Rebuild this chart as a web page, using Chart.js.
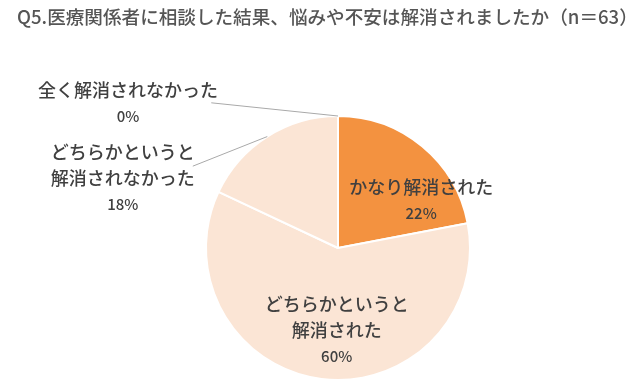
<!DOCTYPE html>
<html>
<head>
<meta charset="utf-8">
<script src="https://cdn.jsdelivr.net/npm/chart.js@4"></script>
<style>
  html, body { margin: 0; padding: 0; background: #fff; }
  #wrap { width: 640px; height: 389px; position: relative; }
</style>
</head>
<body>
<div id="wrap"><canvas id="pieChart" width="640" height="389"></canvas></div>
<script>
// chart data
const titleText = 'Q5.医療関係者に相談した結果、悩みや不安は解消されましたか（n＝63）';
const categories = [
    ['かなり解消された'],
    ['どちらかというと', '解消された'],
    ['どちらかというと', '解消されなかった'],
    ['全く解消されなかった']
];
const percents = [22, 60, 18, 0];
const sliceColors = ['#F39240', '#FBE5D5', '#FBE5D5', '#FBE5D5'];

const FONT = '"Noto Sans CJK JP", "Noto Sans", sans-serif';

// label placement relative to pie centre, in units of radius
// inside: text centre; outside: text centre + leader start
const labelPlace = [
    { dx: 0.63, dy: -0.36, leader: false },
    { dx: -0.01, dy: 0.62, leader: false },
    { dx: -1.63, dy: -0.53, leader: true, lx: -1.10, ly: -0.62 },
    { dx: -1.59, dy: -1.10, leader: true, lx: -0.96, ly: -1.10 }
];

const labelPlugin = {
    id: 'pieLabels',
    afterDatasetsDraw(chart) {
        const ctx = chart.ctx;
        const meta = chart.getDatasetMeta(0);
        ctx.save();
        // title
        ctx.fillStyle = '#555555';
        ctx.font = '500 18.6px ' + FONT;
        ctx.textBaseline = 'middle';
        ctx.textAlign = 'left';
        ctx.fillText(titleText, 17, 17);

        const lineH = 26;
        meta.data.forEach((arc, i) => {
            const p = arc.getProps(['x', 'y', 'startAngle', 'endAngle', 'outerRadius'], true);
            const r = p.outerRadius;
            const place = labelPlace[i];
            const lines = categories[i].concat([percents[i] + '%']);
            const tx = p.x + place.dx * r;
            const ty = p.y + place.dy * r;
            if (place.leader) {
                const mid = (p.startAngle + p.endAngle) / 2;
                ctx.strokeStyle = '#A9A9A9';
                ctx.lineWidth = 1;
                ctx.beginPath();
                ctx.moveTo(p.x + place.lx * r, p.y + place.ly * r);
                ctx.lineTo(p.x + Math.cos(mid) * r, p.y + Math.sin(mid) * r);
                ctx.stroke();
            }
            ctx.fillStyle = '#404040';
            ctx.textAlign = 'center';
            lines.forEach((t, k) => {
                const isPct = k === lines.length - 1;
                ctx.font = (isPct ? '500 15px ' : '500 18px ') + FONT;
                ctx.fillText(t, tx, ty + (k - (lines.length - 1) / 2) * lineH);
            });
        });
        ctx.restore();
    }
};

new Chart(document.getElementById('pieChart').getContext('2d'), {
    type: 'pie',
    data: {
        labels: categories.map(c => c.join('')),
        datasets: [{
            data: percents,
            backgroundColor: sliceColors,
            borderColor: '#ffffff',
            borderWidth: 2
        }]
    },
    options: {
        responsive: false,
        animation: false,
        layout: {
            padding: { top: 115, bottom: 8, left: 100, right: 64 }
        },
        plugins: {
            legend: { display: false },
            tooltip: { enabled: false },
            title: { display: false }
        }
    },
    plugins: [labelPlugin]
});
</script>
</body>
</html>
